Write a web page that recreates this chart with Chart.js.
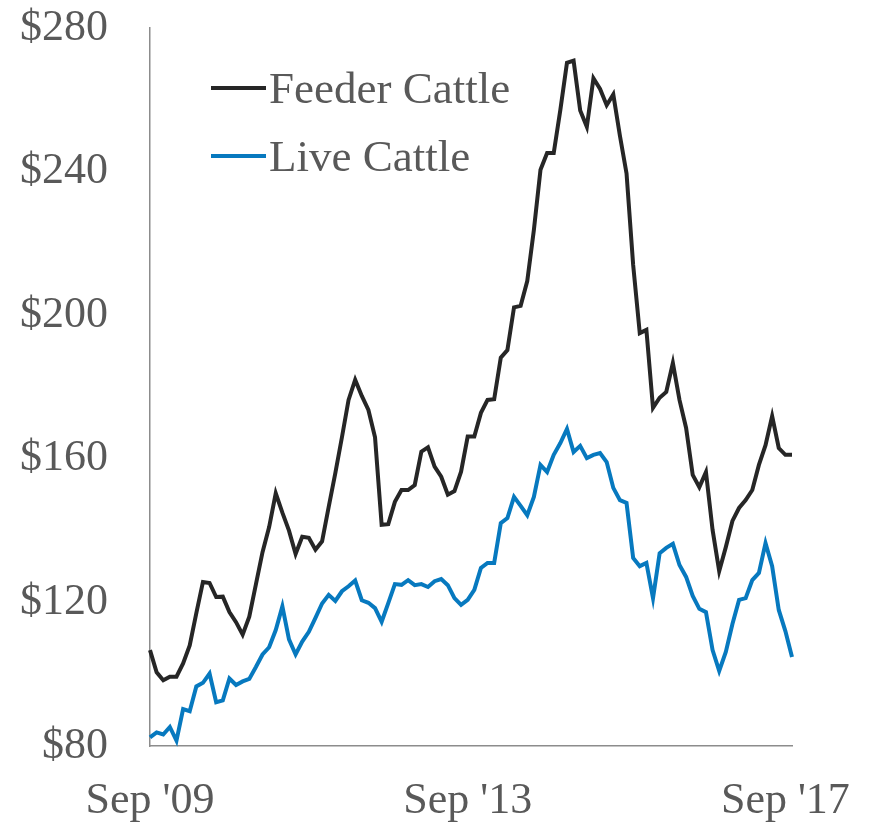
<!DOCTYPE html>
<html>
<head>
<meta charset="utf-8">
<title>Feeder vs Live Cattle</title>
<script src="https://cdn.jsdelivr.net/npm/chart.js@4.4.0/dist/chart.umd.min.js"></script>
<style>
  html, body { margin: 0; padding: 0; background: #fff; }
  #wrap { position: relative; width: 871px; height: 830px; }
  #legend {
    position: absolute; left: 211px; top: 54px;
    font-family: "Liberation Serif", serif; font-size: 45px; color: #595959;
  }
  .item { display: flex; align-items: center; height: 68px; }
  .swatch { width: 55px; height: 4px; margin-right: 3px; }
</style>
</head>
<body>
<div id="wrap">
  <canvas id="chart" width="871" height="830"></canvas>
  <div id="legend"></div>
</div>
<script>
// monthly, Sep 2009 .. Oct 2017
const feeder = [
  106.7, 100.5, 98.3, 99.3, 99.3, 103, 108, 117, 125.7, 125.4,
  121.5, 121.6, 117.3, 114.5, 111, 116, 125, 134, 141, 150.4,
  145, 140, 133.5, 138.3, 138, 134.7, 137, 146.6, 156, 166,
  176.4, 182, 177.5, 173.6, 166, 141.6, 141.8, 148, 151.3, 151.3,
  152.7, 162, 163.2, 157.8, 155, 150, 151, 156.4, 166.2, 166.2,
  172.8, 176.4, 176.6, 188.2, 190.3, 202.2, 202.6, 209.5, 223.7, 240.5,
  245.2, 245.2, 257.2, 270.3, 270.9, 257, 252.5, 266, 263, 258.5,
  261.5, 250, 239.5, 214, 195, 195.9, 174.2, 177, 178.6, 186.7,
  176.4, 168.6, 155.5, 152.1, 156.3, 140.2, 128.7, 135.4, 142.7, 146.3,
  148.5, 151.3, 158.3, 163.8, 171.9, 163, 161.1, 161.1
];
const live = [
  82.4, 83.8, 83.2, 85.3, 81.5, 90.3, 89.7, 96.6, 97.6, 100.2,
  92.2, 92.7, 98.8, 97, 98, 98.7, 102, 105.5, 107.5, 112.3,
  118.9, 109.7, 105.5, 109.1, 111.8, 115.7, 119.7, 122.1, 120.4, 123.1,
  124.5, 126.1, 120.6, 119.9, 118.4, 114.6, 119.8, 125.1, 124.9, 126.2,
  124.8, 125.1, 124.3, 125.9, 126.5, 124.8, 121.2, 119.3, 120.7, 123.5,
  129.6, 131, 131, 142.1, 143.5, 149.4, 146.9, 144.3, 149.4, 158.3,
  156.3, 161.1, 164.4, 168.3, 161.9, 163.6, 160.2, 161.1, 161.6, 159.1,
  151.9, 148.5, 147.7, 132.4, 130.1, 131, 121.2, 133.7, 135.2, 136.3,
  130.4, 127.1, 121.8, 118.2, 117.3, 106.7, 100.9, 106.2, 114, 120.7,
  121.2, 126.2, 128.2, 136.5, 130.1, 117.9, 112, 104.8
];
const tickLabels = ["Sep '09", "Sep '13", "Sep '17"];
const tickIndex = [0, 48, 96];
const yTicks = [80, 120, 160, 200, 240, 280];

const seriesNames = ['Feeder Cattle', 'Live Cattle'];
const seriesColors = ['#262626', '#0779bf'];

const monthNames = ['Jan','Feb','Mar','Apr','May','Jun','Jul','Aug','Sep','Oct','Nov','Dec'];
const months = feeder.map((_, i) => {
  const m = 8 + i;
  return monthNames[m % 12] + ' ' + (2009 + Math.floor(m / 12));
});

const font = { family: '"Liberation Serif", serif', size: 44 };
const textColor = '#595959';
const axisColor = '#8c8c8c';

const legendEl = document.getElementById('legend');
seriesNames.forEach((name, i) => {
  const row = document.createElement('div');
  row.className = 'item';
  row.innerHTML = `<span class="swatch" style="background:${seriesColors[i]}"></span><span>${name}</span>`;
  legendEl.appendChild(row);
});

new Chart(document.getElementById('chart'), {
  type: 'line',
  data: {
    labels: months,
    datasets: [
      { label: seriesNames[0], data: feeder, borderColor: seriesColors[0], borderWidth: 4, pointRadius: 0, tension: 0, clip: false },
      { label: seriesNames[1], data: live, borderColor: seriesColors[1], borderWidth: 4, pointRadius: 0, tension: 0, clip: false }
    ]
  },
  options: {
    responsive: false,
    animation: false,
    layout: { padding: { top: 28, right: 79, left: 0, bottom: 0 } },
    plugins: { legend: { display: false }, tooltip: { enabled: false } },
    scales: {
      x: {
        offset: false,
        grid: { display: false, drawTicks: false },
        border: { display: true, color: axisColor, width: 1.5 },
        afterFit: s => { s.height = 84; },
        ticks: {
          autoSkip: false, maxRotation: 0, minRotation: 0, padding: 29,
          font, color: textColor,
          callback: (v, i) => tickIndex.includes(i) ? tickLabels[tickIndex.indexOf(i)] : ''
        }
      },
      y: {
        min: yTicks[0], max: yTicks[yTicks.length - 1],
        grid: { display: false, drawTicks: false },
        border: { display: true, color: axisColor, width: 1.5 },
        // keep the label overhang from pushing the plot down
        afterFit: s => { s.width = 150; s.paddingTop = 0; s.paddingBottom = 0; },
        ticks: { stepSize: 40, padding: 42, font, color: textColor, callback: v => '$' + v }
      }
    }
  }
});
</script>
</body>
</html>
